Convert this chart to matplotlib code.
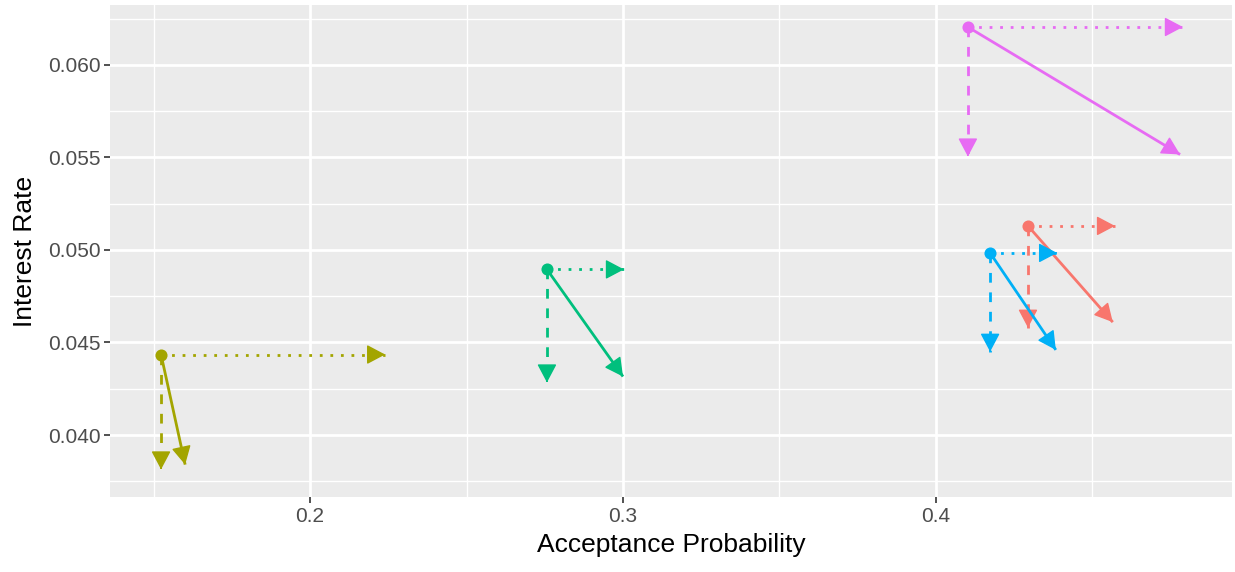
import matplotlib
matplotlib.use("Agg")
import matplotlib.pyplot as plt
from matplotlib.ticker import MultipleLocator

# data
groups = ["red", "olive", "green", "blue", "magenta"]
colors = ["#F8766D", "#A3A500", "#00BF7D", "#00B0F6", "#E76BF3"]
x_start = [0.4294, 0.1524, 0.2757, 0.4173, 0.4102]
y_start = [0.0513, 0.04435, 0.04895, 0.04984, 0.06205]
x_end = [0.4565, 0.1601, 0.3000, 0.4383, 0.4780]
y_end = [0.0461, 0.0384, 0.04316, 0.0446, 0.05516]
x_only_end = [0.4572, 0.2240, 0.3003, 0.4387, 0.4789]
y_only_end = [0.0458, 0.03814, 0.04284, 0.0445, 0.05505]

plt.rcParams["font.family"] = ["Liberation Sans", "DejaVu Sans"]

fig = plt.figure(figsize=(12.35, 5.72), dpi=100)
ax = fig.add_axes([0.0891, 0.1311, 0.9085, 0.8602])
ax.set_facecolor("#EBEBEB")

LW = 2.0


def arrow(x0, y0, x1, y1, color, ls):
    # shaft with its own line style
    ax.plot([x0, x1], [y0, y1], color=color, lw=LW, linestyle=ls,
            solid_capstyle="butt", dash_capstyle="butt", zorder=3)
    # solid filled head at the end
    ax.annotate(
        "",
        xy=(x1, y1),
        xytext=(x1 - (x1 - x0) * 0.02, y1 - (y1 - y0) * 0.02),
        arrowprops=dict(
            arrowstyle="-|>,head_length=0.85,head_width=0.45",
            color=color,
            lw=1,
            shrinkA=0,
            shrinkB=0,
            mutation_scale=13.5,
        ),
        zorder=3,
    )


for i in range(len(groups)):
    c = colors[i]
    arrow(x_start[i], y_start[i], x_only_end[i], y_start[i], c, (0, (1, 2.8)))
    arrow(x_start[i], y_start[i], x_start[i], y_only_end[i], c, (0, (3.5, 3.5)))
    arrow(x_start[i], y_start[i], x_end[i], y_end[i], c, "-")
    ax.plot(x_start[i], y_start[i], "o", color=c, markersize=8.7,
            markeredgewidth=0, zorder=4)

ax.set_xlim(0.1361, 0.4946)
ax.set_ylim(0.03665, 0.06324)

ax.xaxis.set_minor_locator(MultipleLocator(0.05))
ax.yaxis.set_minor_locator(MultipleLocator(0.0025))
ax.set_xticks([0.2, 0.3, 0.4])
ax.set_xticklabels(["0.2", "0.3", "0.4"])
ax.set_yticks([0.040, 0.045, 0.050, 0.055, 0.060])
ax.set_yticklabels(["0.040", "0.045", "0.050", "0.055", "0.060"])

ax.grid(which="major", color="white", linewidth=2)
ax.grid(which="minor", color="white", linewidth=1)
ax.set_axisbelow(True)

for s in ax.spines.values():
    s.set_visible(False)

ax.tick_params(which="major", length=4, width=1.2, color="#333333",
               labelsize=15, labelcolor="#4D4D4D", pad=3)
ax.tick_params(which="minor", length=0)

ax.set_xlabel("Acceptance Probability", fontsize=19, labelpad=5)
ax.set_ylabel("Interest Rate", fontsize=19, labelpad=8)

fig.savefig("out.png", dpi=100)
